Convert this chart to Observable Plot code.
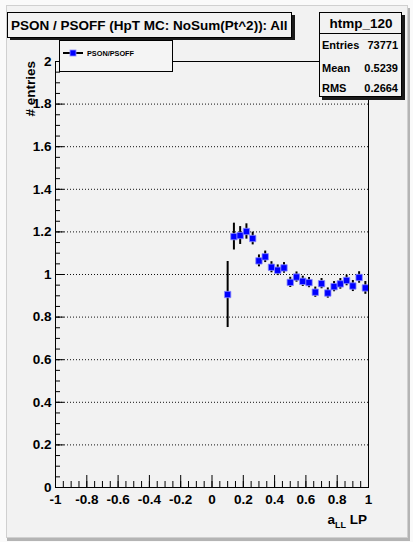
<!DOCTYPE html>
<html>
<head>
<meta charset="utf-8">
<script src="https://cdn.jsdelivr.net/npm/d3@7"></script>
<script src="https://cdn.jsdelivr.net/npm/@observablehq/plot@0.6"></script>
<style>
  html, body { margin: 0; padding: 0; background: #fafafa; }
  svg text { font-family: "Liberation Sans", Arial, Helvetica, sans-serif; }
</style>
</head>
<body>
<div id="chart"></div>
<script>
// Ratio PSON/PSOFF per a_LL bin (bin width 0.04)
const binCenters = [0.10, 0.14, 0.18, 0.22, 0.26, 0.30, 0.34, 0.38, 0.42, 0.46, 0.50, 0.54,
                    0.58, 0.62, 0.66, 0.70, 0.74, 0.78, 0.82, 0.86, 0.90, 0.94, 0.98];
const ratio = [0.906, 1.178, 1.183, 1.202, 1.169, 1.064, 1.083, 1.034, 1.020, 1.031, 0.963, 0.988,
               0.968, 0.962, 0.917, 0.957, 0.913, 0.943, 0.956, 0.972, 0.946, 0.986, 0.937];
const ratioErr = [0.155, 0.063, 0.042, 0.036, 0.030, 0.028, 0.027, 0.026, 0.025, 0.025, 0.024, 0.024,
                  0.024, 0.024, 0.024, 0.024, 0.024, 0.024, 0.025, 0.025, 0.026, 0.027, 0.030];

// Axis divisions
const xMajor = [-1, -0.8, -0.6, -0.4, -0.2, 0, 0.2, 0.4, 0.6, 0.8, 1];
const yMajor = [0, 0.2, 0.4, 0.6, 0.8, 1, 1.2, 1.4, 1.6, 1.8, 2];
const xMinor = d3.range(0, 41).map(i => -1 + i * 0.05);
const yMinor = d3.range(0, 41).map(i => i * 0.05);

// Text
const titleText = "PSON / PSOFF (HpT MC: NoSum(Pt^2)): All";
const legendText = "PSON/PSOFF";
const statsName = "htmp_120";
const statsRows = [["Entries", "73771"], ["Mean", "0.5239"], ["RMS", "0.2664"]];
const yTitle = "# entries";

const points = binCenters.map((x, i) => ({x, y: ratio[i], lo: ratio[i] - ratioErr[i], hi: ratio[i] + ratioErr[i]}));

const W = 413, H = 542;
const mL = 55, mR = 45, mT = 61, mB = 55;
const fw = W - mL - mR, fh = H - mT - mB;
const fmt = d => String(+d.toFixed(2));

const chart = Plot.plot({
  width: W, height: H,
  marginLeft: mL, marginRight: mR, marginTop: mT, marginBottom: mB,
  x: {domain: [-1, 1]},
  y: {domain: [0, 2]},
  style: {background: "transparent", fontFamily: "Liberation Sans, Arial, sans-serif",
          fontSize: "13.5px", fontWeight: "bold", color: "black", overflow: "visible"},
  marks: [
    Plot.ruleY(yMajor.filter(v => v > 0), {stroke: "#111", strokeDasharray: "1,2", strokeWidth: 1}),
    Plot.tickY(yMinor, {stroke: "black", insetRight: fw - 5}),
    Plot.tickY(yMajor, {stroke: "black", insetRight: fw - 9}),
    Plot.tickX(xMinor, {stroke: "black", insetTop: fh - 6}),
    Plot.tickX(xMajor, {stroke: "black", insetTop: fh - 12}),
    Plot.ruleX(points, {x: "x", y1: "lo", y2: "hi", stroke: "black", strokeWidth: 2}),
    Plot.dot(points, {x: "x", y: "y", symbol: "square", r: 3.6, fill: "#0000ff", stroke: "#8c8cff", strokeWidth: 0.8}),
    Plot.frame({stroke: "black"}),
    Plot.axisX({ticks: xMajor, tickSize: 0, tickPadding: 7, tickFormat: fmt, label: null, fontSize: 13.5, fontWeight: "bold"}),
    Plot.axisY({ticks: yMajor, tickSize: 0, tickPadding: 4, tickFormat: fmt, label: null, fontSize: 13.5, fontWeight: "bold"})
  ]
});

const svg = d3.select(chart);

// Canvas panel behind everything
const bg = svg.insert("g", ":first-child");
bg.append("rect").attr("x", 7).attr("y", 8).attr("width", 403).attr("height", 533).attr("fill", "#b4b4b4");
bg.append("rect").attr("x", 6.5).attr("y", 5.5).attr("width", 401).attr("height", 532)
  .attr("fill", "#f2f2f2").attr("stroke", "#d0d0d0");

const deco = svg.append("g").style("font-weight", "bold").attr("fill", "black").attr("text-anchor", "start");

// Y title, aligned to the top of the frame
deco.append("text").attr("transform", `translate(35,${mT}) rotate(-90)`)
  .attr("text-anchor", "end").attr("font-size", 13.5).text(yTitle);

// X title: a_LL LP, aligned to the right of the frame
const xt = deco.append("text").attr("x", W - mR - 1).attr("y", 524).attr("text-anchor", "end").attr("font-size", 13.5);
xt.append("tspan").text("a");
xt.append("tspan").attr("font-size", 9).attr("dy", 4).text("LL");
xt.append("tspan").attr("dy", -4).text(" LP");

// Title box with shadow
deco.append("rect").attr("x", 10).attr("y", 15).attr("width", 285).attr("height", 25).attr("fill", "#1a1a1a");
deco.append("rect").attr("x", 7.5).attr("y", 12.5).attr("width", 284).attr("height", 25)
  .attr("fill", "#f2f2f2").attr("stroke", "black");
deco.append("text").attr("x", 11).attr("y", 30).attr("text-anchor", "start").attr("font-size", 13.5).text(titleText);

// Legend box
deco.append("rect").attr("x", 59.5).attr("y", 40.5).attr("width", 113).attr("height", 31)
  .attr("fill", "#f4f4f4").attr("stroke", "black");
deco.append("line").attr("x1", 63).attr("x2", 83).attr("y1", 53).attr("y2", 53)
  .attr("stroke", "black").attr("stroke-width", 2);
deco.append("rect").attr("x", 70).attr("y", 50).attr("width", 6).attr("height", 6)
  .attr("fill", "#0000ff").attr("stroke", "#8c8cff").attr("stroke-width", 0.8);
deco.append("text").attr("x", 87).attr("y", 55.5).attr("text-anchor", "start").attr("font-size", 7.3).text(legendText);

// Statistics box with shadow
deco.append("rect").attr("x", 322).attr("y", 15).attr("width", 83).attr("height", 85).attr("fill", "#1a1a1a");
deco.append("rect").attr("x", 319.5).attr("y", 12.5).attr("width", 82).attr("height", 84)
  .attr("fill", "#f2f2f2").attr("stroke", "black");
deco.append("line").attr("x1", 319.5).attr("x2", 401.5).attr("y1", 33.5).attr("y2", 33.5).attr("stroke", "black");
deco.append("text").attr("x", 361).attr("y", 28).attr("text-anchor", "middle").attr("font-size", 13.5).text(statsName);
const rowY = [49, 72, 92];
statsRows.forEach(([k, v], i) => {
  deco.append("text").attr("x", 322).attr("y", rowY[i]).attr("text-anchor", "start").attr("font-size", 11).text(k);
  deco.append("text").attr("x", 398).attr("y", rowY[i]).attr("text-anchor", "end").attr("font-size", 11).text(v);
});

document.getElementById("chart").appendChild(chart);
</script>
</body>
</html>
